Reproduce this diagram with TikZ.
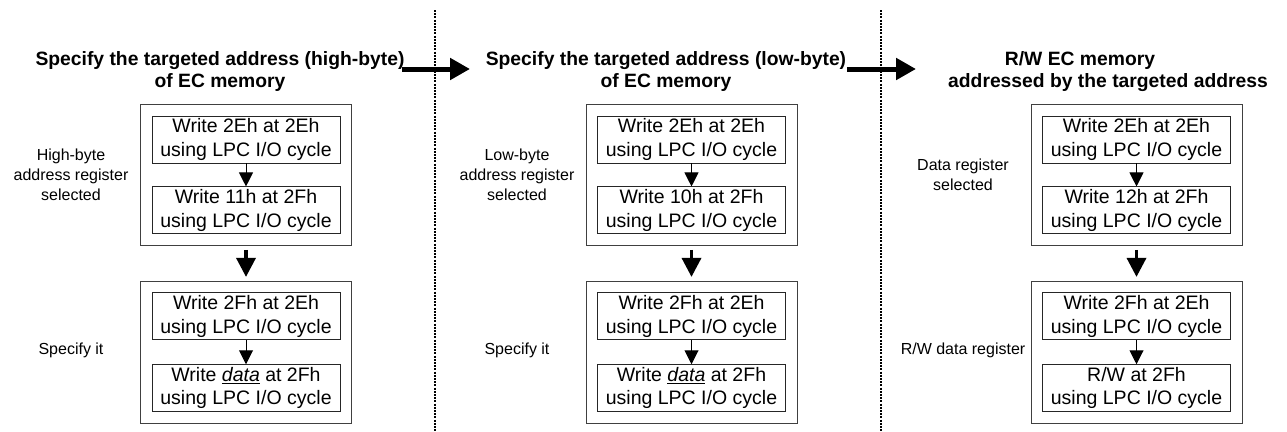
\documentclass[tikz,border=0pt]{standalone}
\usepackage{fontspec}
\setmainfont{Liberation Sans}
\usetikzlibrary{arrows.meta, positioning, fit}

\begin{document}
\begin{tikzpicture}[x=1pt, y=-1pt,
  stepbox/.style={rectangle, draw=black!85, line width=0.9pt,
    minimum width=188pt, minimum height=47pt, inner sep=0pt,
    align=center, font=\fontsize{19.5}{23.5}\selectfont},
  groupbox/.style={rectangle, draw=black!75, line width=0.9pt, inner sep=11pt},
  sidelabel/.style={align=center, font=\fontsize{16}{20}\selectfont},
  heading/.style={align=center, font=\bfseries\fontsize{19.3}{22}\selectfont},
  smallarrow/.style={draw, line width=1pt, -{Triangle[width=14pt, length=14pt]}},
  bigarrow/.style={draw, line width=3.5pt, shorten <=4pt, shorten >=4pt,
    -{Triangle[width=19pt, length=19pt]}},
  flowarrow/.style={draw, line width=5pt, -{Triangle[width=21pt, length=20pt]}},
  divider/.style={line width=2.4pt, dash pattern=on 2pt off 1.2pt}
]
\useasboundingbox (0,0) rectangle (1287,431);

% headings
\node[heading] (hiTitle) at (220,72) {Specify the targeted address (high-byte)\\of EC memory};
\node[heading] (loTitle) at (666,72) {Specify the targeted address (low-byte)\\of EC memory};
\node[heading] (rwTitle) at (1108,72) {R/W EC memory\hspace*{56pt}\\addressed by the targeted address};

% dividers and flow arrows
\draw[divider] (435,10) -- (435,431);
\draw[divider] (881,10) -- (881,431);
\coordinate (flowA1) at (402,69);
\coordinate (flowA2) at (470,69);
\coordinate (flowB1) at (847,69);
\coordinate (flowB2) at (916,69);
\draw[flowarrow] (flowA1) -- (flowA2);
\draw[flowarrow] (flowB1) -- (flowB2);

% high-byte
\node[stepbox] (hiA) at (246,139.5) {Write 2Eh at 2Eh\\using LPC I/O cycle};
\node[stepbox, below=23pt of hiA] (hiB) {Write 11h at 2Fh\\using LPC I/O cycle};
\node[stepbox, below=58pt of hiB] (hiC) {Write 2Fh at 2Eh\\using LPC I/O cycle};
\node[stepbox, below=24pt of hiC] (hiD) {Write \underline{\textit{data}} at 2Fh\\using LPC I/O cycle};
\node[groupbox, fit=(hiA)(hiB)] (hiTop) {};
\node[groupbox, fit=(hiC)(hiD)] (hiBot) {};
\node[sidelabel] (hiSel) at (71,175) {High-byte\\address register\\selected};
\node[sidelabel] (hiSpec) at (71,350) {Specify it};
\draw[smallarrow] (hiA) -- (hiB);
\draw[smallarrow] (hiC) -- (hiD);
\draw[bigarrow] (hiTop) -- (hiBot);

% low-byte
\node[stepbox] (loA) at (691.5,139.5) {Write 2Eh at 2Eh\\using LPC I/O cycle};
\node[stepbox, below=23pt of loA] (loB) {Write 10h at 2Fh\\using LPC I/O cycle};
\node[stepbox, below=58pt of loB] (loC) {Write 2Fh at 2Eh\\using LPC I/O cycle};
\node[stepbox, below=24pt of loC] (loD) {Write \underline{\textit{data}} at 2Fh\\using LPC I/O cycle};
\node[groupbox, fit=(loA)(loB)] (loTop) {};
\node[groupbox, fit=(loC)(loD)] (loBot) {};
\node[sidelabel] (loSel) at (517,175) {Low-byte\\address register\\selected};
\node[sidelabel] (loSpec) at (517,350) {Specify it};
\draw[smallarrow] (loA) -- (loB);
\draw[smallarrow] (loC) -- (loD);
\draw[bigarrow] (loTop) -- (loBot);

% data register
\node[stepbox] (rwA) at (1136.5,139.5) {Write 2Eh at 2Eh\\using LPC I/O cycle};
\node[stepbox, below=23pt of rwA] (rwB) {Write 12h at 2Fh\\using LPC I/O cycle};
\node[stepbox, below=58pt of rwB] (rwC) {Write 2Fh at 2Eh\\using LPC I/O cycle};
\node[stepbox, below=24pt of rwC] (rwD) {R/W at 2Fh\\using LPC I/O cycle};
\node[groupbox, fit=(rwA)(rwB)] (rwTop) {};
\node[groupbox, fit=(rwC)(rwD)] (rwBot) {};
\node[sidelabel] (rwSel) at (963,175) {Data register\\selected};
\node[sidelabel] (rwSpec) at (963,350) {R/W data register};
\draw[smallarrow] (rwA) -- (rwB);
\draw[smallarrow] (rwC) -- (rwD);
\draw[bigarrow] (rwTop) -- (rwBot);

\end{tikzpicture}
\end{document}
